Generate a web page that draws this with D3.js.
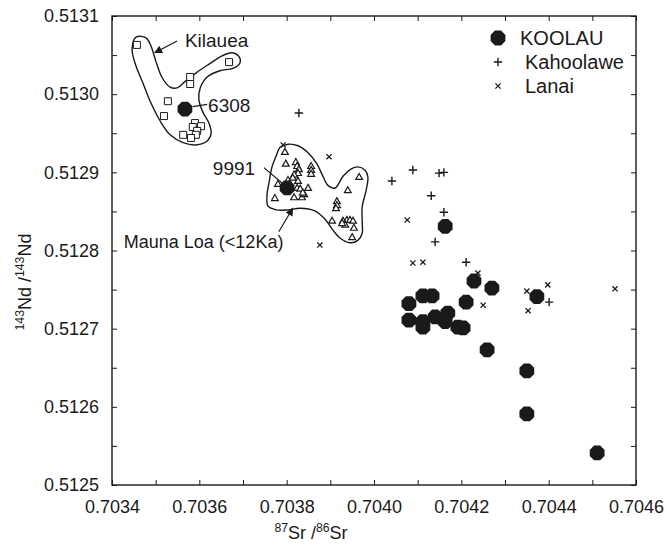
<!DOCTYPE html>
<html>
<head>
<meta charset="utf-8">
<script src="https://cdn.jsdelivr.net/npm/d3@7"></script>
<style>
  html, body { margin: 0; padding: 0; background: #fff; }
  svg { display: block; font-family: "Liberation Sans", Arial, Helvetica, sans-serif; }
</style>
</head>
<body>
<svg id="chart" width="667" height="547"></svg>
<script>
// ---- Sr-Nd isotope data: [87Sr/86Sr, 143Nd/144Nd] ----
const koolau = [
  [0.704163, 0.512831], [0.704080, 0.512732], [0.704112, 0.512742], [0.704133, 0.512742],
  [0.704229, 0.512761], [0.704270, 0.512752], [0.704211, 0.512734], [0.704373, 0.512741],
  [0.704080, 0.512711], [0.704112, 0.512709], [0.704112, 0.512702], [0.704140, 0.512715],
  [0.704169, 0.512720], [0.704163, 0.512709], [0.704192, 0.512702], [0.704204, 0.512701],
  [0.704259, 0.512673], [0.704350, 0.512646], [0.704350, 0.512591], [0.704511, 0.512541]
];
const kahoolawe = [
  [0.703828, 0.512976], [0.704041, 0.512889], [0.704089, 0.512903], [0.704149, 0.512899],
  [0.704160, 0.512900], [0.704131, 0.512870], [0.704160, 0.512849], [0.704140, 0.512811],
  [0.704211, 0.512785], [0.704401, 0.512734]
];
const lanai = [
  [0.703792, 0.512935], [0.703897, 0.512920], [0.703876, 0.512807], [0.704076, 0.512839],
  [0.704089, 0.512784], [0.704112, 0.512785], [0.704238, 0.512771], [0.704250, 0.512730],
  [0.704350, 0.512748], [0.704353, 0.512723], [0.704398, 0.512756], [0.704552, 0.512751]
];
const kilauea = [
  [0.703457, 0.513063], [0.703668, 0.513041], [0.703579, 0.513022], [0.703579, 0.513013],
  [0.703528, 0.512991], [0.703519, 0.512972], [0.703590, 0.512963], [0.703604, 0.512959],
  [0.703585, 0.512958], [0.703595, 0.512953], [0.703563, 0.512948], [0.703592, 0.512948],
  [0.703581, 0.512944]
];
const maunaLoa = [
  [0.703796, 0.512926], [0.703798, 0.512911], [0.703821, 0.512913], [0.703824, 0.512908],
  [0.703828, 0.512904], [0.703826, 0.512899], [0.703817, 0.512897], [0.703856, 0.512908],
  [0.703856, 0.512903], [0.703856, 0.512898], [0.703780, 0.512885], [0.703803, 0.512890],
  [0.703814, 0.512893], [0.703826, 0.512889], [0.703824, 0.512880], [0.703831, 0.512879],
  [0.703849, 0.512880], [0.703817, 0.512868], [0.703835, 0.512868], [0.703840, 0.512872],
  [0.703773, 0.512867], [0.703837, 0.512874], [0.703966, 0.512894], [0.703940, 0.512877],
  [0.703915, 0.512863], [0.703915, 0.512858], [0.703913, 0.512854], [0.703904, 0.512838],
  [0.703929, 0.512838], [0.703938, 0.512839], [0.703945, 0.512839], [0.703952, 0.512838],
  [0.703934, 0.512833], [0.703927, 0.512835], [0.703954, 0.512829], [0.703950, 0.512817]
];
// named samples (drawn with the KOOLAU symbol)
const sampleNames = ["6308", "9991"];
const samplePoints = [[0.703567, 0.512981], [0.703801, 0.512880]];

// field outlines around the Kilauea and Mauna Loa data
const kilaueaField = [
  [0.703455, 0.513073], [0.703478, 0.513072], [0.703489, 0.513062], [0.703501, 0.513041],
  [0.703515, 0.513021], [0.703533, 0.513009], [0.703549, 0.513008], [0.703567, 0.513016],
  [0.703592, 0.513027], [0.703624, 0.513039], [0.703652, 0.513049], [0.703675, 0.513053],
  [0.703691, 0.513048], [0.703693, 0.513040], [0.703677, 0.513033], [0.703647, 0.513030],
  [0.703618, 0.513022], [0.703602, 0.513008], [0.703599, 0.512993], [0.703608, 0.512977],
  [0.703622, 0.512963], [0.703627, 0.512950], [0.703618, 0.512940], [0.703592, 0.512935],
  [0.703563, 0.512938], [0.703533, 0.512948], [0.703510, 0.512966], [0.703489, 0.512989],
  [0.703471, 0.513014], [0.703455, 0.513036], [0.703446, 0.513057]
];
const maunaLoaField = [
  [0.703785, 0.512932], [0.703803, 0.512936], [0.703826, 0.512934], [0.703849, 0.512925],
  [0.703869, 0.512911], [0.703883, 0.512895], [0.703895, 0.512883], [0.703911, 0.512880],
  [0.703929, 0.512895], [0.703947, 0.512904], [0.703963, 0.512907], [0.703979, 0.512903],
  [0.703986, 0.512894], [0.703982, 0.512877], [0.703973, 0.512856], [0.703973, 0.512836],
  [0.703973, 0.512822], [0.703963, 0.512813], [0.703945, 0.512810], [0.703922, 0.512816],
  [0.703906, 0.512826], [0.703888, 0.512840], [0.703863, 0.512851], [0.703831, 0.512854],
  [0.703803, 0.512852], [0.703776, 0.512852], [0.703757, 0.512857], [0.703755, 0.512871],
  [0.703760, 0.512888], [0.703766, 0.512906], [0.703776, 0.512921]
];

// axes
const xDomain = [0.7034, 0.7046];
const yDomain = [0.5125, 0.5131];
const xMajor = [0.7034, 0.7036, 0.7038, 0.7040, 0.7042, 0.7044, 0.7046];
const xMajorLabels = ["0.7034", "0.7036", "0.7038", "0.7040", "0.7042", "0.7044", "0.7046"];
const xMinor = [0.7035, 0.7037, 0.7039, 0.7041, 0.7043, 0.7045];
const yMajor = [0.5125, 0.5126, 0.5127, 0.5128, 0.5129, 0.5130, 0.5131];
const yMajorLabels = ["0.5125", "0.5126", "0.5127", "0.5128", "0.5129", "0.5130", "0.5131"];
const yMinor = [0.51255, 0.51265, 0.51275, 0.51285, 0.51295, 0.51305];
const legendNames = ["KOOLAU", "Kahoolawe", "Lanai"];

// annotation anchors (data units)
const kilaueaLabel = { text: "Kilauea", at: [0.703567, 0.513060], from: [0.703549, 0.513068], to: [0.703498, 0.513053] };
const maunaLoaLabel = { text: "Mauna Loa (<12Ka)", at: [0.703427, 0.512803], from: [0.703782, 0.512824], to: [0.703814, 0.512854] };
const sampleLabels = [
  { at: [0.703620, 0.512977], from: [0.703585, 0.512984], to: [0.703618, 0.512987] },
  { at: [0.703631, 0.512897], from: [0.703748, 0.512906], to: [0.703792, 0.512885] }
];

// ---- drawing ----
const ink = "#1a1a1a";
const plot = { left: 112, right: 636, top: 16, bottom: 485 };
const x = d3.scaleLinear().domain(xDomain).range([plot.left, plot.right]);
const y = d3.scaleLinear().domain(yDomain).range([plot.bottom, plot.top]);
const svg = d3.select("#chart");

svg.append("defs").append("marker")
  .attr("id", "arrow").attr("viewBox", "0 0 10 10").attr("refX", 9).attr("refY", 5)
  .attr("markerWidth", 11).attr("markerHeight", 8).attr("markerUnits", "userSpaceOnUse")
  .attr("orient", "auto")
  .append("path").attr("d", "M0,0L10,5L0,10Z").attr("fill", ink);

// tick marks on all four sides, pointing inward
function axisGroup(gen, tx, ty, values, fmt) {
  const g = svg.append("g").attr("transform", `translate(${tx},${ty})`)
    .call(gen.tickValues(values).tickSizeInner(-5).tickSizeOuter(0).tickFormat(fmt));
  g.select(".domain").remove();
  g.selectAll(".tick line").attr("stroke", ink).attr("stroke-width", 1);
  g.selectAll("text").attr("fill", ink).attr("font-size", 18);
  return g;
}
const blank = () => "";
axisGroup(d3.axisBottom(x).tickPadding(15), 0, plot.bottom, xMajor, v => xMajorLabels[xMajor.indexOf(v)]);
axisGroup(d3.axisBottom(x), 0, plot.bottom, xMinor, blank);
axisGroup(d3.axisTop(x), 0, plot.top, xMajor.concat(xMinor), blank);
axisGroup(d3.axisLeft(y).tickPadding(13), plot.left, 0, yMajor, v => yMajorLabels[yMajor.indexOf(v)]);
axisGroup(d3.axisLeft(y), plot.left, 0, yMinor, blank);
axisGroup(d3.axisRight(y), plot.right, 0, yMajor.concat(yMinor), blank);

svg.append("rect")
  .attr("x", plot.left).attr("y", plot.top)
  .attr("width", plot.right - plot.left).attr("height", plot.bottom - plot.top)
  .attr("fill", "none").attr("stroke", ink).attr("stroke-width", 1.4);

// axis titles with superscript mass numbers
function richText(parent, parts, size) {
  const t = parent.append("text").attr("fill", ink).attr("font-size", size);
  let shift = 0;
  parts.forEach(p => {
    const target = p.sup ? -7 : 0;
    t.append("tspan").text(p.t)
      .attr("font-size", p.sup ? size * 0.68 : size)
      .attr("dy", target - shift);
    shift = target;
  });
  return t;
}
richText(svg.append("g").attr("transform", "translate(311,539)"),
  [{ t: "87", sup: true }, { t: "Sr" }, { t: " /" }, { t: "86", sup: true }, { t: "Sr" }], 18)
  .attr("text-anchor", "middle");
richText(svg.append("g").attr("transform", "translate(31,282) rotate(-90)"),
  [{ t: "143", sup: true }, { t: "Nd" }, { t: " /" }, { t: "143", sup: true }, { t: "Nd" }], 18)
  .attr("text-anchor", "middle");

// field outlines
const outline = d3.line().x(d => x(d[0])).y(d => y(d[1])).curve(d3.curveCatmullRomClosed.alpha(0.5));
[kilaueaField, maunaLoaField].forEach(f =>
  svg.append("path").attr("d", outline(f)).attr("fill", "none").attr("stroke", ink).attr("stroke-width", 1.4));

// symbol shapes
function polygon(r, n) {
  const pts = d3.range(n).map(i => {
    const a = Math.PI * 2 * i / n + Math.PI / n;
    return [r * Math.cos(a), r * Math.sin(a)];
  });
  return "M" + pts.map(p => p.join(",")).join("L") + "Z";
}
const shapes = {
  koolau: { d: polygon(8, 8), fill: ink, stroke: "none", w: 0 },
  square: { d: "M-3.5,-3.5H3.5V3.5H-3.5Z", fill: "#fff", stroke: ink, w: 1 },
  triangle: { d: "M0,-3.6L3.4,2.4H-3.4Z", fill: "#fff", stroke: ink, w: 1.2 },
  plus: { d: "M-4.2,0H4.2M0,-4.2V4.2", fill: "none", stroke: ink, w: 1.4 },
  cross: { d: "M-2.6,-2.6L2.6,2.6M-2.6,2.6L2.6,-2.6", fill: "none", stroke: ink, w: 1.3 }
};
function scatter(data, shape) {
  const s = shapes[shape];
  svg.append("g").selectAll("path").data(data).join("path")
    .attr("transform", d => `translate(${x(d[0])},${y(d[1])})`)
    .attr("d", s.d).attr("fill", s.fill).attr("stroke", s.stroke).attr("stroke-width", s.w);
}
scatter(kilauea, "square");
scatter(maunaLoa, "triangle");
scatter(lanai, "cross");
scatter(kahoolawe, "plus");
scatter(koolau, "koolau");
scatter(samplePoints, "koolau");

// annotations
function leader(a, arrow) {
  const l = svg.append("line")
    .attr("x1", x(a.from[0])).attr("y1", y(a.from[1]))
    .attr("x2", x(a.to[0])).attr("y2", y(a.to[1]))
    .attr("stroke", ink).attr("stroke-width", 1.2);
  if (arrow) l.attr("marker-end", "url(#arrow)");
}
function label(txt, at, size) {
  svg.append("text").attr("x", x(at[0])).attr("y", y(at[1]))
    .attr("font-size", size).attr("fill", ink).text(txt);
}
leader(kilaueaLabel, true); label(kilaueaLabel.text, kilaueaLabel.at, 19);
leader(maunaLoaLabel, true); label(maunaLoaLabel.text, maunaLoaLabel.at, 18);
sampleLabels.forEach((a, i) => { leader(a, false); label(sampleNames[i], a.at, 19); });

// legend
const legendShapes = ["koolau", "plus", "cross"];
const legend = svg.append("g").attr("transform", "translate(498,38)");
legendNames.forEach((name, i) => {
  const s = shapes[legendShapes[i]];
  const row = legend.append("g").attr("transform", `translate(0,${i * 24})`);
  row.append("path").attr("d", s.d).attr("fill", s.fill).attr("stroke", s.stroke).attr("stroke-width", s.w);
  row.append("text").attr("x", i === 0 ? 22 : 27).attr("y", 7).attr("font-size", 20).attr("fill", ink).text(name);
});
</script>
</body>
</html>
